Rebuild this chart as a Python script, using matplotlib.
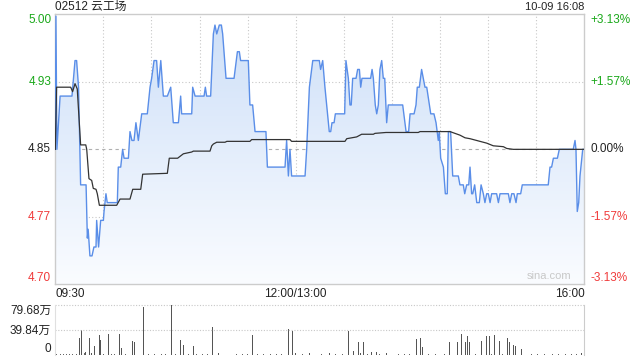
import matplotlib
matplotlib.use("Agg")
import matplotlib.pyplot as plt
from matplotlib.colors import LinearSegmentedColormap
import numpy as np

plt.rcParams['font.family'] = ['Liberation Sans', 'Noto Sans CJK SC', 'DejaVu Sans']

# data (minutes since 09:30, lunch break removed)
title = '02512 云工场'
stamp = '10-09 16:08'
prev_close = 4.85
span = 0.152

price_t = [0, 0.4, 1, 3, 10.4, 12.3, 13.3, 14.5, 15.8, 19.2, 20.0, 20.5, 21.6, 22.9, 24.1, 25.4,
           25.8, 27.0, 28.3, 30.0, 30.4, 31.6, 32.4, 38.7, 39.3, 40.8, 42.0, 42.9, 45.6, 46.6,
           47.8, 49.1, 50.3, 51.8, 53.9, 57.4, 59.1, 60.1, 61.6, 63.2, 64.3, 65.8, 67.4, 69.9,
           72.0, 73.6, 76.8, 78.2, 78.8, 85.1, 85.7, 87.2, 92.8, 93.6, 94.4, 96.9, 98.6, 99.6,
           100.7, 102.3, 103.6, 104.4, 106.5, 111.5, 113.6, 114.8, 115.6, 120.4, 121.4, 123.1,
           124.6, 131.4, 132.3, 143.3, 144.3, 145.4, 146.4, 147.4, 155.8, 156.8, 158.5, 160.6,
           164.7, 165.5, 166.8, 168.2, 170.9, 171.8, 172.6, 173.9, 174.7, 180.5, 181.3, 182.8,
           183.8, 184.6, 185.5, 187.6, 188.6, 189.7, 190.5, 191.3, 196.7, 197.6, 198.4, 199.6,
           200.5, 201.5, 202.5, 203.6, 204.6, 205.5, 206.7, 207.7, 216.7, 218.8, 220.4, 221.3,
           223.8, 225.0, 225.8, 227.1, 228.5, 230.6, 231.7, 234.2, 236.2, 237.5, 238.9, 239.5,
           240.4, 242.1, 243.3, 244.5, 245.2, 246.6, 247.9, 251.4, 252.4, 254.5, 255.4, 256.6,
           257.9, 258.7, 259.7, 260.4, 261.6, 262.9, 264.5, 265.6, 267.0, 268.0, 269.1, 270.1,
           271.2, 272.2, 275.3, 276.4, 277.4, 282.6, 283.6, 284.7, 286.1, 287.4, 288.2, 290.3,
           291.3, 307.5, 308.6, 309.6, 310.7, 313.2, 314.4, 323.1, 324.2, 324.8, 325.6, 326.5,
           327.3, 329.0, 330]
price_v = [4.85, 5.00, 4.85, 4.91, 4.91, 4.95, 4.95, 4.92, 4.81, 4.81, 4.75, 4.76, 4.73, 4.73, 4.74, 4.74,
           4.77, 4.74, 4.77, 4.77, 4.78, 4.80, 4.79, 4.79, 4.83, 4.83, 4.85, 4.84, 4.84, 4.87,
           4.86, 4.86, 4.88, 4.86, 4.89, 4.89, 4.92, 4.93, 4.95, 4.95, 4.92, 4.95, 4.91, 4.91,
           4.92, 4.88, 4.88, 4.91, 4.89, 4.89, 4.92, 4.91, 4.91, 4.92, 4.91, 4.91, 4.98, 4.99,
           4.98, 4.99, 4.99, 4.98, 4.93, 4.93, 4.96, 4.96, 4.95, 4.95, 4.90, 4.90,
           4.87, 4.87, 4.83, 4.83, 4.86, 4.82, 4.85, 4.82, 4.82, 4.85, 4.92, 4.95,
           4.95, 4.94, 4.95, 4.92, 4.87, 4.87, 4.88, 4.88, 4.89, 4.89, 4.95, 4.93,
           4.90, 4.90, 4.93, 4.93, 4.94, 4.94, 4.92, 4.93, 4.93, 4.94, 4.93, 4.90,
           4.89, 4.90, 4.94, 4.95, 4.93, 4.93, 4.88, 4.90, 4.90, 4.87, 4.87, 4.89,
           4.89, 4.90, 4.92, 4.92, 4.94, 4.92, 4.92, 4.89, 4.89, 4.88, 4.86, 4.87,
           4.84, 4.83, 4.80, 4.80, 4.87, 4.87, 4.82, 4.82, 4.81, 4.81, 4.80, 4.81,
           4.81, 4.83, 4.80, 4.80, 4.81, 4.79, 4.79, 4.81, 4.80, 4.79, 4.80, 4.80,
           4.79, 4.80, 4.80, 4.79, 4.80, 4.80, 4.79, 4.80, 4.80, 4.79, 4.80, 4.80,
           4.81, 4.81, 4.83, 4.83, 4.84, 4.84, 4.85, 4.85, 4.86, 4.85, 4.78, 4.79,
           4.82, 4.85, 4.85]

avg_t = [0, 0.8, 9.6, 10.8, 12.3, 13.7, 15.8, 19.0, 19.6, 21.0, 22.7, 23.7, 25.4, 26.2, 27.5,
         38.3, 40.4, 46.6, 48.3, 53.3, 54.5, 69.9, 71.1, 76.3, 79.9, 85.1, 86.1, 96.5, 97.6,
         98.6, 100.7, 105.9, 107, 121.4, 122.5, 146.4, 147.4, 180.7, 181.8, 188, 191.1, 198.4,
         199.4, 206.3, 226.4, 227.5, 246.2, 249.3, 252.4, 255.6, 258.7, 264.9, 269.1, 273.2,
         279.5, 281.6, 285.7, 330]
avg_v = [4.85, 4.92, 4.92, 4.915, 4.924, 4.918, 4.855, 4.855, 4.85, 4.817, 4.815, 4.806, 4.805, 4.80, 4.787,
         4.787, 4.794, 4.794, 4.805, 4.805, 4.822, 4.823, 4.84, 4.84, 4.845, 4.847, 4.848, 4.848, 4.854,
         4.856, 4.858, 4.858, 4.859, 4.859, 4.861, 4.861, 4.859, 4.859, 4.862, 4.864, 4.867, 4.867,
         4.868, 4.869, 4.869, 4.87, 4.87, 4.868, 4.866, 4.863, 4.862, 4.859, 4.857, 4.854,
         4.853, 4.851, 4.85, 4.85]

# volume in 万 shares
vol_max = 79.68
vol_t = [15, 16.2, 19, 21.2, 22.5, 24.3, 27.4, 28.1, 33.1, 39.9, 41.2, 48, 49.3, 54.9, 72.4,
         78, 79.8, 86.1, 97.9, 99, 102, 106.5, 122.9, 145.3, 147.8, 150, 158.5, 171, 182.8,
         185.9, 189, 190.5, 192.4, 197.4, 200.5, 206.5, 225.2, 227.7, 229, 245.8, 251, 253.3,
         255.8, 257, 258.3, 259.9, 265.7, 268.9, 270.7, 274.1, 277.2, 282, 283.2, 285.7, 286.9,
         290.7, 328]
vol_v = [26.6, 39.4, 5, 26.6, 3, 13.9, 31.9, 23.4, 33, 33, 10.7, 22.3, 20.2, 76.5, 79.68,
         24, 16, 14.3, 44.6, 3, 3, 3, 31.9, 41.4, 38.3, 3, 2, 3, 38.3,
         6, 20.2, 3, 20.2, 5, 4, 2, 25, 26.6, 12.7, 20.2, 20.2, 33,
         20.2, 29.8, 20.2, 22.3, 22.3, 29.8, 29.8, 31.9, 22.3, 26.6, 20.2, 15.4, 13.9,
         9.6, 3]
small_t = [1, 3, 5, 7, 9, 11, 13, 18, 26, 30, 35, 37, 44, 46, 51, 58, 62, 66, 69, 75, 83, 88, 92,
           95, 104, 109, 113, 117, 120, 126, 130, 134, 138, 141, 154, 162, 166, 175, 179, 195,
           202, 210, 214, 218, 221, 233, 237, 240, 243, 262, 272, 279, 293, 297, 301, 305, 310,
           314, 318, 322, 325, 330]
small_v = [1, 1.5, 1, 1, 1.5, 1, 1.5, 2, 1.5, 1, 1, 1.5, 1, 1.5, 1, 1, 1.5, 1, 1, 1.5, 1, 1, 1.5,
           1, 1.5, 1, 1, 1.5, 1, 1, 1.5, 1, 1, 1.5, 1, 1.5, 1, 1.5, 1, 1,
           1.5, 1, 1.5, 1, 1, 1.5, 1, 1.5, 1, 1, 1.5, 1, 1, 1.5, 1, 1, 1.5,
           1, 1, 1.5, 1, 1.5]

green = '#1aa81a'
red = '#f03a3a'
blue = '#5a8ee8'
grid_c = '#c8c8c8'
spine_c = '#cccccc'

fig = plt.figure(figsize=(6.4, 3.6), dpi=100)
ax = fig.add_axes([0.0864, 0.2103, 0.8266, 0.7497])
vax = fig.add_axes([0.0864, 0.0147, 0.8266, 0.1389])

lo, hi = prev_close - span, prev_close + span
ax.set_xlim(0, 330)
ax.set_ylim(lo, hi)

# gradient fill under the price line
poly = ax.fill_between(price_t, price_v, lo, color='none', lw=0)
cmap = LinearSegmentedColormap.from_list('fillg', ['#fafcff', '#cddff8'])
grad = np.linspace(0, 1, 256).reshape(-1, 1)
img = ax.imshow(grad, cmap=cmap, aspect='auto', origin='lower',
                extent=(0, 330, lo, hi), zorder=1)
img.set_clip_path(poly.get_paths()[0], transform=ax.transData)

# grid
for gx in range(30, 330, 30):
    ax.axvline(gx, color=grid_c, lw=0.8, ls=(0, (1, 2)), zorder=0.5)
for gy in [prev_close + span / 2, prev_close - span / 2]:
    ax.axhline(gy, color=grid_c, lw=0.8, ls=(0, (1, 2)), zorder=0.5)
ax.axhline(prev_close, color='#b0b0b0', lw=0.8, ls=(0, (3, 3)), zorder=0.5)

ax.plot(price_t, price_v, color=blue, lw=1.0, zorder=3)
ax.plot(avg_t, avg_v, color='#333333', lw=0.9, zorder=4)

for s in ax.spines.values():
    s.set_color(spine_c)
    s.set_linewidth(1)

# left price labels
ticks = [hi, prev_close + span / 2, prev_close, prev_close - span / 2, lo]
lab = ['5.00', '4.93', '4.85', '4.77', '4.70']
cols = [green, green, '#222222', red, red]
vas = ['top', 'center', 'center', 'center', 'bottom']
ax.set_yticks(ticks)
ax.set_yticklabels(lab, fontsize=8.5)
ax.tick_params(axis='y', length=0, pad=3)
for t, c, va in zip(ax.get_yticklabels(), cols, vas):
    t.set_color(c)
    t.set_va(va)

# right percentage labels
pct = ['+3.13%', '+1.57%', '0.00%', '-1.57%', '-3.13%']
for yv, txt, c, va in zip(ticks, pct, cols, vas):
    ax.text(1.012, yv, txt, transform=ax.get_yaxis_transform(), color=c,
            fontsize=8.5, ha='left', va=va)

# time labels
ax.set_xticks([0, 150, 330])
ax.set_xticklabels(['09:30', '12:00/13:00', '16:00'], fontsize=8.5, color='#222222')
ax.tick_params(axis='x', length=0, pad=3)
xl = ax.get_xticklabels()
xl[0].set_ha('left')
xl[2].set_ha('right')

ax.text(0, 1.027, title, transform=ax.transAxes, fontsize=8.5, color='#222222',
        ha='left', va='center')
ax.text(1, 1.027, stamp, transform=ax.transAxes, fontsize=8, color='#222222',
        ha='right', va='center')
ax.text(0.975, 0.012, 'sina.com', transform=ax.transAxes, fontsize=8,
        color='#c8c8c8', ha='right', va='bottom', zorder=5)

# volume pane
vax.bar(small_t, small_v, width=0.55, color='#666666', lw=0)
vax.bar(vol_t, vol_v, width=0.55, color='#555555', lw=0)
vax.set_xlim(0, 330)
vax.set_ylim(0, vol_max)
vax.axhline(vol_max, color=grid_c, lw=0.8, ls=(0, (1, 1.5)), clip_on=False)
vax.axhline(vol_max / 2, color=grid_c, lw=0.8, ls=(0, (1, 1.5)))
vax.axhline(0, color='#bbbbbb', lw=0.6, ls=(0, (1, 1)))
vax.set_xticks([])
vax.set_yticks([vol_max, vol_max / 2, 0])
vax.set_yticklabels(['79.68万', '39.84万', '0'], fontsize=8.5, color='#222222')
vax.tick_params(axis='y', length=0, pad=3)
vl = vax.get_yticklabels()
vl[0].set_va('top')
vl[2].set_va('bottom')
for k in ['top', 'bottom']:
    vax.spines[k].set_visible(False)
vax.spines['left'].set_color('#e0e0e0')
vax.spines['right'].set_color(spine_c)

fig.savefig('out.png', dpi=100)
